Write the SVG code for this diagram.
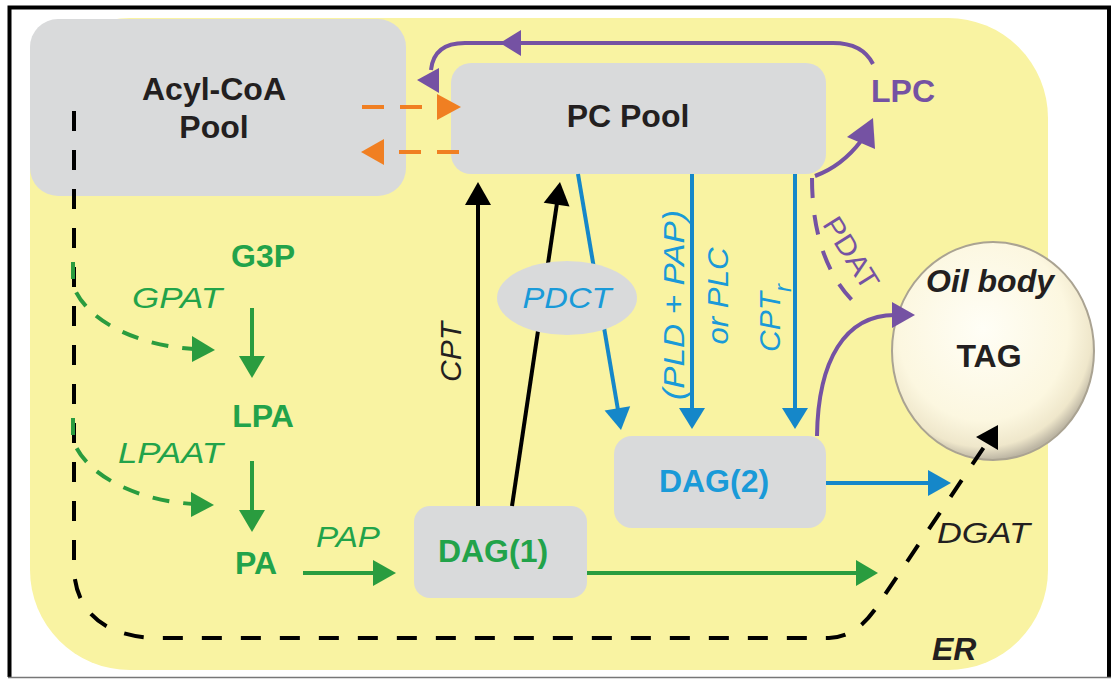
<svg xmlns="http://www.w3.org/2000/svg" width="1113" height="679" viewBox="0 0 1113 679">
<defs>
<style>
.lb{font-family:"Liberation Sans",Arial,sans-serif;font-weight:bold;font-size:32px}
.it{font-family:"Liberation Sans",Arial,sans-serif;font-style:italic;font-size:30px}
.box{fill:#d9dadb}
.blk{fill:#231f20}
.grn{fill:#22a34a}
.blu{fill:#1a9ad8}
.pur{fill:#7552a3}
.ln{fill:none;stroke-width:4}
</style>
<radialGradient id="oil" cx="0.45" cy="0.4" r="0.6">
<stop offset="0" stop-color="#fffef6"/>
<stop offset="0.7" stop-color="#fcf7e0"/>
<stop offset="0.9" stop-color="#efe7cb"/>
<stop offset="1" stop-color="#bdb6a4"/>
</radialGradient>
</defs>
<rect width="1113" height="679" fill="#ffffff"/>
<path d="M9.5,677 L9.5,7.5 L1109,7.5 L1109,677" fill="none" stroke="#000" stroke-width="4"/>
<line x1="8" y1="677.5" x2="1111" y2="677.5" stroke="#777" stroke-width="1.5"/>
<rect id="er" x="30" y="18" width="1018" height="652" rx="100" ry="100" fill="#f9f3a2"/>

<g id="acylcoa">
<rect class="box" x="30" y="19" width="376" height="177" rx="28"/>
<text class="lb blk" x="214" y="100" text-anchor="middle">Acyl-CoA</text>
<text class="lb blk" x="214" y="138" text-anchor="middle">Pool</text>
</g>
<g id="pcpool">
<rect class="box" x="451" y="63" width="375" height="111" rx="20"/>
<text class="lb blk" x="628" y="127" text-anchor="middle">PC Pool</text>
</g>
<g id="dag1">
<rect class="box" x="414" y="506" width="173" height="92" rx="16"/>
<text class="lb grn" x="493" y="562" text-anchor="middle">DAG(1)</text>
</g>
<g id="dag2">
<rect class="box" x="614" y="436" width="212" height="92" rx="18"/>
<text class="lb blu" x="714" y="492" text-anchor="middle">DAG(2)</text>
</g>
<g id="oilbody">
<ellipse cx="993" cy="351" rx="101" ry="109" fill="url(#oil)" stroke="#aaa392" stroke-width="2"/>
<text class="lb blk" x="990" y="292" text-anchor="middle" font-style="italic">Oil body</text>
<text class="lb blk" x="989" y="367" text-anchor="middle">TAG</text>
</g>
<g id="g3p"><text class="lb grn" x="263" y="267" text-anchor="middle">G3P</text></g>
<g id="lpa"><text class="lb grn" x="263" y="427" text-anchor="middle">LPA</text></g>
<g id="pa"><text class="lb grn" x="256" y="574" text-anchor="middle">PA</text></g>
<g id="lpc"><text class="lb pur" x="871" y="102">LPC</text></g>

<g id="connectors">
<!-- black dashed DGAT path -->
<path class="ln" d="M74,111 L74,570 C76,612 105,638 160,638 L829,638 C851,637 866,624 880,602 L986,444" stroke="#000" stroke-width="4.5" stroke-dasharray="20 19"/>
<polygon points="998,425 976,437 998,450" fill="#000"/>
<!-- green dashed GPAT / LPAAT -->
<path class="ln" d="M73,262 L73,285 C86,322 140,346 194,349" stroke="#2a9c3f" stroke-dasharray="17 14"/>
<polygon points="192,336 215,350 192,362" fill="#2a9c3f"/>
<path class="ln" d="M73,418 L73,440 C86,477 140,501 194,504" stroke="#2a9c3f" stroke-dasharray="17 14"/>
<polygon points="191,492 214,505 191,517" fill="#2a9c3f"/>
<!-- green solid -->
<line class="ln" x1="252" y1="308" x2="252" y2="358" stroke="#2a9c3f" stroke-width="4.5"/>
<polygon points="239,356 265,356 252,378" fill="#2a9c3f"/>
<line class="ln" x1="252" y1="461" x2="252" y2="512" stroke="#2a9c3f" stroke-width="4.5"/>
<polygon points="239,510 265,510 252,532" fill="#2a9c3f"/>
<line class="ln" x1="303" y1="573" x2="375" y2="573" stroke="#2a9c3f" stroke-width="4.5"/>
<polygon points="373,560 373,586 396,573" fill="#2a9c3f"/>
<line class="ln" x1="587" y1="573" x2="858" y2="573" stroke="#2a9c3f" stroke-width="4.5"/>
<polygon points="856,560 856,586 878,573" fill="#2a9c3f"/>
<!-- orange dashed -->
<line class="ln" x1="362" y1="107" x2="437" y2="107" stroke="#f07f22" stroke-dasharray="22 16"/>
<polygon points="437,94 437,120 461,107" fill="#f07f22"/>
<line class="ln" x1="459" y1="152" x2="384" y2="152" stroke="#f07f22" stroke-dasharray="22 16"/>
<polygon points="384,139 384,165 361,152" fill="#f07f22"/>
<!-- black CPT / PDCT -->
<line class="ln" x1="478" y1="506" x2="478" y2="203" stroke="#000"/>
<polygon points="465,205 491,205 478,182" fill="#000"/>
<line class="ln" x1="512" y1="506" x2="557" y2="203" stroke="#000" stroke-width="3.5"/>
<polygon points="543.7,202.8 569.5,206.6 560,182" fill="#000"/>
<!-- blue -->
<line class="ln" x1="578" y1="174" x2="618" y2="410" stroke="#1587c9" stroke-width="3.5"/>
<polygon points="604.6,410.4 630.2,406.2 621,430" fill="#1587c9"/>
<line class="ln" x1="692" y1="174" x2="692" y2="410" stroke="#1587c9"/>
<polygon points="679,408 705,408 692,429" fill="#1587c9"/>
<line class="ln" x1="795" y1="174" x2="795" y2="410" stroke="#1587c9"/>
<polygon points="782,408 808,408 795,429" fill="#1587c9"/>
<line class="ln" x1="826" y1="483" x2="930" y2="483" stroke="#1587c9"/>
<polygon points="928,470 928,496 951,483" fill="#1587c9"/>
<!-- purple -->
<path class="ln" d="M873,64 C866,50 853,43 833,43 L465,43 C446,43 433,50 431,70" stroke="#7552a3"/>
<polygon points="500,43 521,30 521,56" fill="#7552a3"/>
<polygon points="417,80 439,68 439,93" fill="#7552a3"/>
<path class="ln" d="M815,176 Q842,166 861,141" stroke="#7552a3"/>
<polygon points="873,118 847,137 875,149" fill="#7552a3"/>
<path class="ln" d="M812,178 C812,230 825,276 858,306" stroke="#7552a3" stroke-width="3.5" stroke-dasharray="20 17"/>
<path class="ln" d="M817,436 C818,360 845,315 895,315" stroke="#7552a3" stroke-width="3"/>
<polygon points="915,315 892,302 892,328" fill="#7552a3"/>
</g>

<g id="pdct">
<ellipse cx="567" cy="298" rx="70" ry="37" class="box"/>
<text class="it blu" x="567" y="308" text-anchor="middle" textLength="89" lengthAdjust="spacingAndGlyphs">PDCT</text>
</g>

<g id="labels">
<text class="it grn" x="132" y="308" textLength="90" lengthAdjust="spacingAndGlyphs">GPAT</text>
<text class="it grn" x="118" y="463" textLength="105" lengthAdjust="spacingAndGlyphs">LPAAT</text>
<text class="it grn" x="316" y="547" textLength="64" lengthAdjust="spacingAndGlyphs">PAP</text>
<text class="it blk" transform="translate(461,352) rotate(-90)" text-anchor="middle">CPT</text>
<text class="it blu" transform="translate(684,305) rotate(-90)" text-anchor="middle" textLength="190" lengthAdjust="spacingAndGlyphs">(PLD + PAP)</text>
<text class="it blu" transform="translate(728,296) rotate(-90)" text-anchor="middle" textLength="97" lengthAdjust="spacingAndGlyphs">or PLC</text>
<text class="it blu" transform="translate(780,352) rotate(-90)">CPT<tspan font-size="24" dy="11">r</tspan></text>
<text class="pur" font-family="Liberation Sans, Arial, sans-serif" font-size="28" transform="translate(843,258) rotate(58)" text-anchor="middle" textLength="80" lengthAdjust="spacingAndGlyphs">PDAT</text>
<text class="it blk" x="937" y="543" textLength="93" lengthAdjust="spacingAndGlyphs">DGAT</text>
<text class="lb blk" x="932" y="660" font-style="italic" font-size="31">ER</text>
</g>
</svg>
